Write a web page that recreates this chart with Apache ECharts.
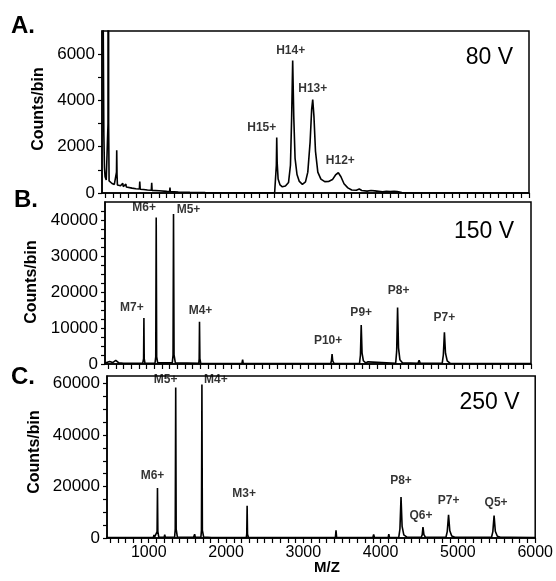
<!DOCTYPE html>
<html>
<head>
<meta charset="utf-8">
<script src="https://cdn.jsdelivr.net/npm/echarts@6/dist/echarts.min.js"></script>
<style>
html,body{margin:0;padding:0;background:#fff;}
#c{width:556px;height:581px;}
</style>
</head>
<body>
<div id="c"></div>
<script>
// ---------- DATA ----------
// x range (M/Z)
const xMin = 460, xMax = 6000;
const xLabelValues = [1000, 2000, 3000, 4000, 5000, 6000];

// y tick labels
const yLabelsA = [0, 2000, 4000, 6000];
const yLabelsB = [0, 10000, 20000, 30000, 40000];
const yLabelsC = [0, 20000, 40000, 60000];

// Panel A (80 V) spectrum: [m/z, counts]
const spectrumA = [
  [460, 20000], [476, 7200], [484, 2500], [492, 1100], [500, 700], [515, 560], [532, 560],
  [538, 3000], [542, 60000], [546, 3000], [552, 520], [565, 440], [590, 410], [620, 370],
  [643, 360], [648, 900], [651, 1850], [655, 800], [660, 350], [700, 310], [725, 290],
  [730, 420], [735, 280], [760, 270], [770, 380], [775, 260], [800, 240], [850, 210],
  [900, 185], [945, 170], [950, 490], [956, 165], [1000, 150], [1050, 130], [1100, 120],
  [1105, 440], [1110, 115], [1200, 95], [1300, 70], [1338, 65], [1342, 230], [1346, 62],
  [1450, 45], [1600, 30], [1800, 18], [2000, 10], [2300, 5], [2600, 5], [2700, 20],
  [2715, 100], [2722, 1200], [2727, 2400], [2733, 1300], [2745, 600], [2770, 350],
  [2800, 270], [2840, 300], [2880, 450], [2905, 1200], [2920, 3200], [2934, 5730],
  [2948, 3300], [2965, 1500], [2990, 800], [3020, 500], [3060, 375], [3100, 480],
  [3130, 900], [3160, 2200], [3180, 3600], [3194, 4040], [3210, 3300], [3230, 1800],
  [3260, 900], [3300, 600], [3350, 490], [3400, 500], [3450, 580], [3490, 780],
  [3526, 875], [3560, 700], [3600, 400], [3650, 220], [3700, 130], [3760, 120],
  [3798, 170], [3830, 110], [3900, 80], [3950, 110], [3972, 140], [4000, 90],
  [4100, 50], [4150, 70], [4200, 60], [4250, 70], [4290, 60], [4350, 20], [4500, 10],
  [6000, 0]
];

// Panel B (150 V) spectrum
const spectrumB = [
  [460, 300], [520, 700], [560, 400], [600, 1000], [640, 300], [700, 200],
  [950, 200], [962, 1500], [966, 12800], [970, 1500], [980, 200],
  [1110, 200], [1120, 2000], [1126, 40700], [1132, 2000], [1145, 300],
  [1335, 300], [1345, 2500], [1351, 41650], [1358, 2500], [1375, 300],
  [1680, 200], [1685, 1500], [1689, 11750], [1694, 1500], [1705, 200],
  [2240, 100], [2250, 1200], [2258, 100],
  [3395, 100], [3405, 900], [3413, 2750], [3421, 900], [3440, 100],
  [3770, 200], [3782, 2500], [3792, 10840], [3803, 3000], [3820, 900], [3850, 300],
  [3880, 600], [3900, 200],
  [4240, 200], [4253, 3500], [4265, 15720], [4277, 4500], [4295, 1200], [4330, 300],
  [4530, 200], [4545, 1000], [4560, 200],
  [4845, 200], [4860, 2500], [4874, 8830], [4888, 3000], [4910, 900], [4950, 200],
  [5690, 100], [5700, 500], [5710, 100], [6000, 100]
];

// Panel C (250 V) spectrum
const spectrumC = [
  [460, 200], [800, 200], [1060, 300], [1068, 1200], [1075, 300], [1100, 300],
  [1108, 2500], [1113, 19400], [1118, 2500], [1130, 300], [1200, 300], [1207, 1300],
  [1214, 300], [1335, 400], [1343, 3500], [1349, 58500], [1355, 3500], [1370, 400],
  [1580, 300], [1594, 1500], [1602, 300], [1675, 400], [1682, 3000], [1688, 59700],
  [1694, 3000], [1710, 400], [1815, 200], [1823, 900], [1830, 200],
  [2262, 200], [2268, 1500], [2273, 12500], [2278, 1500], [2290, 200],
  [2730, 200], [2737, 800], [2744, 200],
  [3415, 200], [3423, 3000], [3431, 200],
  [3900, 200], [3910, 1400], [3920, 200],
  [4098, 200], [4106, 1500], [4114, 200],
  [4235, 300], [4250, 3500], [4264, 15900], [4278, 4500], [4300, 1200], [4340, 300],
  [4525, 300], [4538, 1200], [4548, 4200], [4560, 1300], [4580, 300],
  [4845, 300], [4862, 2500], [4879, 9000], [4895, 2800], [4920, 800], [4960, 300],
  [5435, 300], [5452, 2500], [5468, 8700], [5484, 2600], [5510, 700], [5550, 300],
  [5680, 300], [5690, 800], [5700, 300], [6000, 200]
];

// Peak labels
const peakNamesA = ['H15+', 'H14+', 'H13+', 'H12+'];
const peakMzA = [2727, 2934, 3194, 3526];
const peakCountsA = [2400, 5730, 4040, 875];

const peakNamesB = ['M7+', 'M6+', 'M5+', 'M4+', 'P10+', 'P9+', 'P8+', 'P7+'];
const peakMzB = [966, 1126, 1351, 1689, 3413, 3792, 4265, 4874];
const peakCountsB = [12800, 40700, 41650, 11750, 2750, 10840, 15720, 8830];

const peakNamesC = ['M6+', 'M5+', 'M4+', 'M3+', 'P8+', 'Q6+', 'P7+', 'Q5+'];
const peakMzC = [1113, 1349, 1688, 2273, 4264, 4548, 4879, 5468];
const peakCountsC = [19400, 58500, 59700, 12500, 15900, 4200, 9000, 8700];

const panelLetters = ['A.', 'B.', 'C.'];
const voltages = ['80 V', '150 V', '250 V'];

// ---------- STYLE / LAYOUT ----------
const FONT = "'Liberation Sans', Arial, Helvetica, sans-serif";
const grids = [
  {left: 102, right: 27, top: 31, height: 162},
  {left: 105, right: 25, top: 202, height: 162},
  {left: 107, right: 19, top: 376, height: 162}
];
const yConf = [
  {max: 7000, interval: 1000, labels: yLabelsA},
  {max: 45000, interval: 2500, labels: yLabelsB},
  {max: 63000, interval: 5000, labels: yLabelsC}
];
// label offsets [dx, gap above apex]
const offA = [[-15, 3], [-2, 3], [0, 4], [2, 6]];
const offB = [[-12, 4], [-12, 3], [15, -2], [1, 5], [-4, 7], [0, 6], [1, 10], [0, 8]];
const offC = [[-5, 6], [-10, 1], [14, -2], [-3, 6], [0, 10], [-2, 5], [0, 8], [2, 6]];

const xTicks = [];
for (let v = 500; v <= 6000; v += 100) xTicks.push(v);

const spectra = [spectrumA, spectrumB, spectrumC];
const peaks = [
  [peakNamesA, peakMzA, peakCountsA, offA],
  [peakNamesB, peakMzB, peakCountsB, offB],
  [peakNamesC, peakMzC, peakCountsC, offC]
];

const chart = echarts.init(document.getElementById('c'), null, {renderer: 'canvas'});

const option = {
  animation: false,
  backgroundColor: '#fff',
  grid: grids.map(g => Object.assign({show: true, borderColor: '#000', borderWidth: 1.5, backgroundColor: 'transparent'}, g)),
  xAxis: grids.map((g, i) => ({
    gridIndex: i, type: 'value', min: xMin, max: xMax,
    axisLine: {show: true, onZero: false, lineStyle: {color: '#000', width: 1.5}},
    axisTick: {show: true, customValues: xTicks, length: 5, lineStyle: {color: '#000', width: 1.2}},
    axisLabel: {show: i === 2, customValues: xLabelValues, fontSize: 16, margin: 7, color: '#000', fontFamily: FONT,
      formatter: v => String(v)},
    splitLine: {show: false}
  })),
  yAxis: yConf.map((c, i) => ({
    gridIndex: i, type: 'value', min: 0, max: c.max, interval: c.interval,
    axisLine: {show: true, lineStyle: {color: '#000', width: 1.5}},
    axisTick: {show: true, length: 4, lineStyle: {color: '#000', width: 1.2}},
    axisLabel: {
      fontSize: 17, margin: 7, color: '#000', fontFamily: FONT,
      showMaxLabel: false,
      formatter: v => c.labels.indexOf(v) >= 0 ? String(v) : ''
    },
    splitLine: {show: false}
  })),
  series: [],
  graphic: []
};

spectra.forEach((s, i) => {
  option.series.push({
    type: 'line', xAxisIndex: i, yAxisIndex: i, data: s,
    showSymbol: false, symbol: 'none', clip: true, silent: true,
    lineStyle: {color: '#000', width: 1.6}
  });
  const [names, mz, cnt, off] = peaks[i];
  option.series.push({
    type: 'scatter', xAxisIndex: i, yAxisIndex: i, symbolSize: 1, silent: true,
    itemStyle: {color: 'rgba(0,0,0,0)'},
    label: {
      show: true, position: 'top', distance: 0,
      formatter: p => p.value[2],
      fontSize: 12, fontWeight: 'bold', color: '#000', fontFamily: FONT
    },
    data: names.map((n, k) => ({value: [mz[k], cnt[k], n], label: {offset: [off[k][0], -off[k][1]]}}))
  });
});

// static texts
const letterPos = [[11, 26], [14, 200], [11, 377]];
const voltPos = [[513, 57.5], [514, 231.5], [519.5, 403]];
const ylabelPos = [[39, 109], [32, 282], [35, 452]];
for (let i = 0; i < 3; i++) {
  option.graphic.push({
    type: 'text', x: letterPos[i][0], y: letterPos[i][1],
    style: {text: panelLetters[i], font: 'bold 24px ' + FONT, fill: '#000', textAlign: 'left', textVerticalAlign: 'middle'}
  });
  option.graphic.push({
    type: 'text', x: voltPos[i][0], y: voltPos[i][1],
    style: {text: voltages[i], font: '23px ' + FONT, fill: '#000', textAlign: 'right', textVerticalAlign: 'middle'}
  });
  option.graphic.push({
    type: 'text', x: ylabelPos[i][0], y: ylabelPos[i][1], rotation: Math.PI / 2,
    style: {text: 'Counts/bin', font: 'bold 16px ' + FONT, fill: '#000', textAlign: 'center', textVerticalAlign: 'middle'}
  });
}
option.graphic.push({
  type: 'text', x: 327, y: 568,
  style: {text: 'M/Z', font: 'bold 15px ' + FONT, fill: '#000', textAlign: 'center', textVerticalAlign: 'middle'}
});

chart.setOption(option);
</script>
</body>
</html>
